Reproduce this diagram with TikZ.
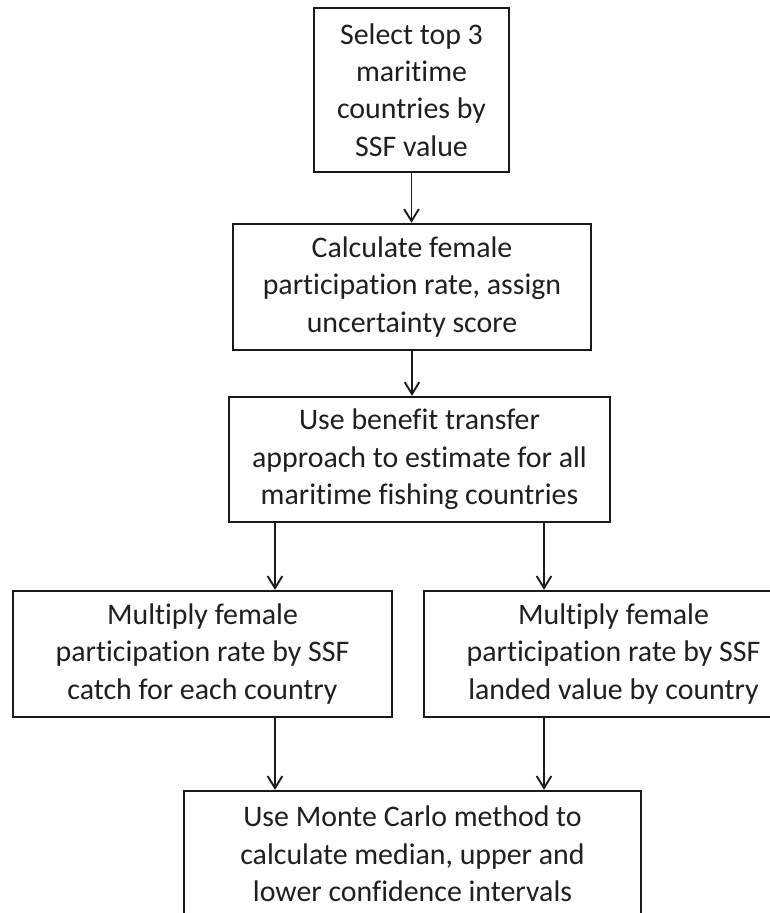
\documentclass[tikz,border=0pt]{standalone}
\usepackage{fontspec}
\setmainfont{Carlito}[Ligatures=NoCommon]
\usetikzlibrary{arrows.meta}
\begin{document}
\begin{tikzpicture}[x=0.75pt,y=-0.75pt,
  box/.style={draw=black!90, line width=1.7pt, align=center, inner sep=0pt,
    text=black!88, font=\fontsize{22.4pt}{28.1pt}\selectfont},
  arr/.style={draw=black!90, line width=1.4pt, -{Straight Barb[length=9pt,width=11pt,line width=1.4pt]}}]
\useasboundingbox (0,0) rectangle (769,913);
\node[box, minimum width=195*0.75pt, minimum height=164*0.75pt] (b1) at (411.5,90)
  {Select top 3\\maritime\\countries by\\SSF value};
\node[box, minimum width=358*0.75pt, minimum height=126*0.75pt] (b2) at (412,287)
  {Calculate female\\participation rate, assign\\uncertainty score};
\node[box, minimum width=381*0.75pt, minimum height=125*0.75pt] (b3) at (419.5,459.5)
  {Use benefit transfer\\approach to estimate for all\\maritime fishing countries};
\node[box, minimum width=379*0.75pt, minimum height=126*0.75pt] (b4) at (202.5,654)
  {Multiply female\\participation rate by SSF\\catch for each country};
\node[box, minimum width=379*0.75pt, minimum height=126*0.75pt] (b5) at (613.5,654)
  {Multiply female\\participation rate by SSF\\landed value by country};
\node[box, minimum width=457*0.75pt, minimum height=126*0.75pt] (b6) at (412.5,854)
  {Use Monte Carlo method to\\calculate median, upper and\\lower confidence intervals};
\coordinate (xl) at (275,0);
\coordinate (xr) at (544,0);
\draw[arr] (b1.south) -- (b1.south |- b2.north);
\draw[arr] (b2.south) -- (b2.south |- b3.north);
\draw[arr] (b3.south -| xl) -- (b4.north -| xl);
\draw[arr] (b3.south -| xr) -- (b5.north -| xr);
\draw[arr] (b4.south -| xl) -- (b6.north -| xl);
\draw[arr] (b5.south -| xr) -- (b6.north -| xr);
\end{tikzpicture}
\end{document}
